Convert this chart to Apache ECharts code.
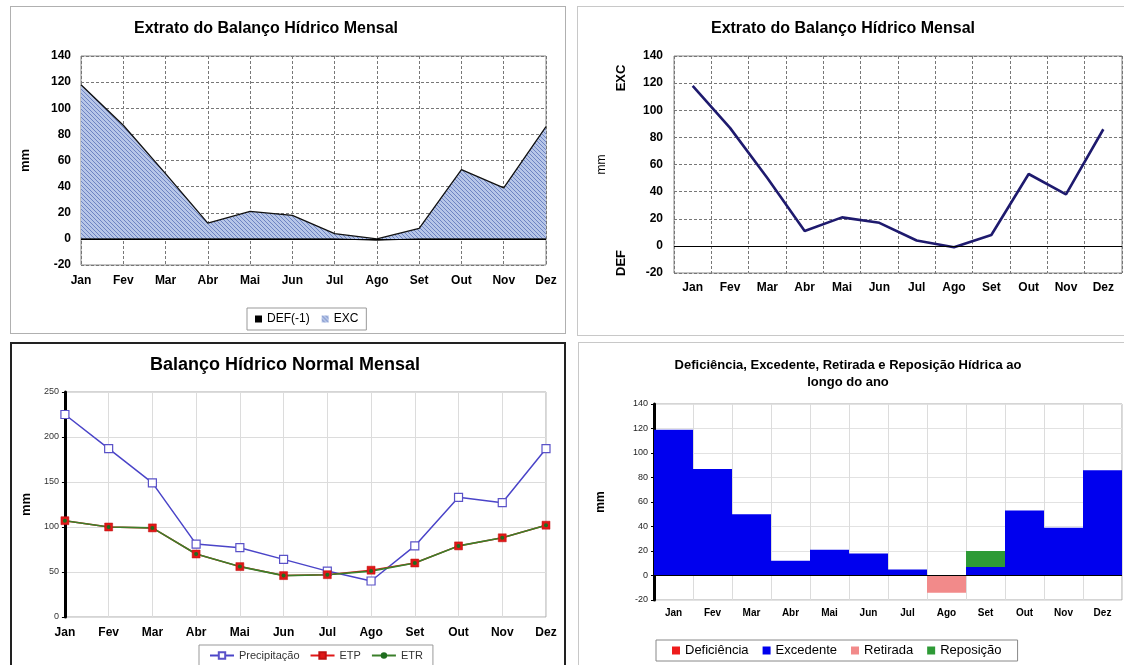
<!DOCTYPE html>
<html><head><meta charset="utf-8">
<script src="https://cdn.jsdelivr.net/npm/echarts@6/dist/echarts.min.js"></script>
<style>
html,body{margin:0;padding:0;width:1124px;height:665px;overflow:hidden;background:#fff;}
.p{position:absolute;box-sizing:border-box;background:#fff;}
</style></head><body>
<div id="p1" class="p" style="left:10px;top:6px;width:556px;height:328px;border:1px solid #b0b0b0;"></div>
<div id="p2" class="p" style="left:577px;top:6px;width:580px;height:330px;border:1px solid #c8c8c8;"></div>
<div id="p3" class="p" style="left:10px;top:342px;width:556px;height:340px;border:2px solid #222;"></div>
<div id="p4" class="p" style="left:578px;top:342px;width:580px;height:340px;border:1px solid #c8c8c8;"></div>
<script>
// ---------- data ----------
const months = ['Jan','Fev','Mar','Abr','Mai','Jun','Jul','Ago','Set','Out','Nov','Dez'];
// Panel 1: Extrato (area)
const excArea = [118, 87, 50, 12, 21, 18, 4, 0, 8, 53, 39, 86];
const defArea = [0, 0, 0, 0, 0, 0, 0, -1, 0, 0, 0, 0];
// Panel 2: Extrato (line)
const extratoLine = [118, 87, 50, 11, 21, 17, 4, -1, 8, 53, 38, 86];
// Panel 3: Balanço hídrico normal
const precipitacao = [225, 187, 149, 81, 77, 64, 51, 40, 79, 133, 127, 187];
const etp = [107, 100, 99, 70, 56, 46, 47, 52, 60, 79, 88, 102];
const etr = [107, 100, 99, 70, 56, 46, 47, 51, 60, 79, 88, 102];
// Panel 4: bars
const deficiencia = [0, 0, 0, 0, 0, 0, 0, 0, 0, 0, 0, 0];
const excedente = [119, 87, 50, 12, 21, 18, 5, 0, 7, 53, 39, 86];
const retirada = [0, 0, 0, 0, 0, 0, 0, -14, 0, 0, 0, 0];
const reposicao = [0, 0, 0, 0, 0, 0, 0, 0, 13, 0, 0, 0];
// tick settings
const ticks140 = {min: -20, max: 140, interval: 20};
const ticks250 = {min: 0, max: 250, interval: 50};

const FONT = 'Arial, "Liberation Sans", sans-serif';

function hatch(){
  const c = document.createElement('canvas');
  c.width = 4; c.height = 4;
  const g = c.getContext('2d');
  g.fillStyle = '#b7c6e8'; g.fillRect(0,0,4,4);
  g.strokeStyle = '#6e84c2'; g.lineWidth = 1;
  g.beginPath(); g.moveTo(-1,-1); g.lineTo(5,5); g.stroke();
  g.beginPath(); g.moveTo(3,-1); g.lineTo(5,1); g.stroke();
  g.beginPath(); g.moveTo(-1,3); g.lineTo(1,5); g.stroke();
  return c;
}
const hatchColor = {image: hatch(), repeat: 'repeat'};

const zeroLine = {silent: true, symbol: 'none', label: {show: false}, animation: false,
  lineStyle: {color: '#000', type: 'solid', width: 1}, data: [{yAxis: 0}]};

// ---------- Panel 1 ----------
echarts.init(document.getElementById('p1')).setOption({
  animation: false,
  title: {text: 'Extrato do Balanço Hídrico Mensal', left: 255, top: 14, textAlign: 'center', padding: 0,
    textStyle: {fontFamily: FONT, fontSize: 16, fontWeight: 'bold', color: '#000'}},
  legend: {left: 236, top: 301, padding: [5, 8], borderColor: '#999', borderWidth: 1, itemGap: 12,
    itemWidth: 7, itemHeight: 7, icon: 'rect',
    textStyle: {fontFamily: FONT, fontSize: 12, color: '#000'},
    data: ['DEF(-1)', 'EXC']},
  grid: {left: 64, top: 49, width: 471, height: 209, show: true, borderColor: '#888', borderWidth: 1},
  xAxis: {type: 'category', data: months, boundaryGap: false,
    axisLine: {show: false}, axisTick: {show: false},
    axisLabel: {margin: 10, fontFamily: FONT, fontSize: 12, fontWeight: 'bold', color: '#000'},
    splitLine: {show: true, lineStyle: {color: '#777', type: [3, 2]}}},
  yAxis: {type: 'value', ...ticks140, name: 'mm', nameLocation: 'middle', nameGap: 49, nameRotate: 90,
    nameTextStyle: {fontFamily: FONT, fontSize: 13, fontWeight: 'bold', color: '#000'},
    axisLine: {show: false}, axisTick: {show: false},
    axisLabel: {margin: 10, fontFamily: FONT, fontSize: 12, fontWeight: 'bold', color: '#000'},
    splitLine: {show: true, lineStyle: {color: '#777', type: [3, 2]}}},
  series: [
    {name: 'DEF(-1)', type: 'line', data: defArea, symbol: 'none', itemStyle: {color: '#000'},
     lineStyle: {color: '#000', width: 1}, areaStyle: {color: '#000', opacity: 1}},
    {name: 'EXC', type: 'line', data: excArea, symbol: 'none', itemStyle: {color: hatchColor},
     lineStyle: {color: '#111', width: 1.3}, areaStyle: {color: hatchColor, opacity: 1},
     markLine: zeroLine}
  ]
});

// ---------- Panel 2 ----------
echarts.init(document.getElementById('p2')).setOption({
  animation: false,
  title: {text: 'Extrato do Balanço Hídrico Mensal', left: 265, top: 14, textAlign: 'center', padding: 0,
    textStyle: {fontFamily: FONT, fontSize: 16, fontWeight: 'bold', color: '#000'}},
  grid: {left: 96, top: 49, width: 448, height: 217, show: true, borderColor: '#888', borderWidth: 1},
  xAxis: {type: 'category', data: months, boundaryGap: true,
    axisLine: {show: false}, axisTick: {show: false},
    axisLabel: {margin: 9, fontFamily: FONT, fontSize: 12, fontWeight: 'bold', color: '#000'},
    splitLine: {show: true, lineStyle: {color: '#777', type: [3, 2]}}},
  yAxis: {type: 'value', ...ticks140, name: 'mm', nameLocation: 'middle', nameGap: 66, nameRotate: 90,
    nameTextStyle: {fontFamily: FONT, fontSize: 12, color: '#000'},
    axisLine: {show: false}, axisTick: {show: false},
    axisLabel: {margin: 11, fontFamily: FONT, fontSize: 12, fontWeight: 'bold', color: '#000'},
    splitLine: {show: true, lineStyle: {color: '#777', type: [3, 2]}}},
  graphic: [
    {type: 'text', x: 43, y: 71, rotation: Math.PI / 2,
     style: {text: 'EXC', font: 'bold 13px ' + FONT, fill: '#000', textAlign: 'center', textVerticalAlign: 'middle', verticalAlign: 'middle'}},
    {type: 'text', x: 43, y: 256, rotation: Math.PI / 2,
     style: {text: 'DEF', font: 'bold 13px ' + FONT, fill: '#000', textAlign: 'center', textVerticalAlign: 'middle', verticalAlign: 'middle'}}
  ],
  series: [
    {name: 'Extrato', type: 'line', data: extratoLine, symbol: 'none',
     lineStyle: {color: '#1e1a6e', width: 2.6}, markLine: zeroLine}
  ]
});

// ---------- Panel 3 ----------
echarts.init(document.getElementById('p3')).setOption({
  animation: false,
  title: {text: 'Balanço Hídrico Normal Mensal', left: 273, top: 12, textAlign: 'center', padding: 0,
    textStyle: {fontFamily: FONT, fontSize: 18, fontWeight: 'bold', color: '#000'}},
  legend: {left: 187, top: 301, padding: [5, 10], borderColor: '#999', borderWidth: 1, itemGap: 10,
    itemWidth: 24, itemHeight: 8,
    textStyle: {fontFamily: FONT, fontSize: 11, color: '#333'},
    data: ['Precipitação', 'ETP', 'ETR']},
  grid: {left: 44, top: 48, width: 490, height: 225, show: true, borderColor: '#aaa', borderWidth: 1},
  xAxis: {type: 'category', data: months, boundaryGap: false,
    axisLine: {show: false}, axisTick: {show: false},
    axisLabel: {margin: 10, fontFamily: FONT, fontSize: 12, fontWeight: 'bold', color: '#000'},
    splitLine: {show: true, lineStyle: {color: '#dcdcdc', type: 'solid'}}},
  yAxis: {type: 'value', ...ticks250, name: 'mm', nameLocation: 'middle', nameGap: 30, nameRotate: 90,
    nameTextStyle: {fontFamily: FONT, fontSize: 13, fontWeight: 'bold', color: '#000'},
    axisLine: {show: true, lineStyle: {color: '#000', width: 3}},
    axisTick: {show: true, length: 3, lineStyle: {color: '#000'}},
    axisLabel: {margin: 6, fontFamily: FONT, fontSize: 9, color: '#333'},
    splitLine: {show: true, lineStyle: {color: '#dcdcdc', type: 'solid'}}},
  series: [
    {name: 'Precipitação', type: 'line', data: precipitacao, symbol: 'rect', symbolSize: 8,
     itemStyle: {color: '#fff', borderColor: '#5a52c8', borderWidth: 1.2},
     lineStyle: {color: '#4a44c8', width: 1.5}},
    {name: 'ETP', type: 'line', data: etp, symbol: 'rect', symbolSize: 8,
     itemStyle: {color: '#e01818', borderColor: '#c01010', borderWidth: 0.5},
     lineStyle: {color: '#e01818', width: 1.5}},
    {name: 'ETR', type: 'line', data: etr, symbol: 'circle', symbolSize: 4,
     itemStyle: {color: '#1f6d1f'},
     lineStyle: {color: '#3a7f2a', width: 1.6}}
  ]
});

// ---------- Panel 4 ----------
const barCommon = {type: 'bar', stack: 'hid', barCategoryGap: '0%', barGap: '0%'};
echarts.init(document.getElementById('p4')).setOption({
  animation: false,
  title: {text: 'Deficiência, Excedente, Retirada e Reposição Hídrica ao\nlongo do ano', left: 269, top: 14,
    textAlign: 'center', padding: 0,
    textStyle: {fontFamily: FONT, fontSize: 13, fontWeight: 'bold', color: '#000', lineHeight: 17}},
  legend: {left: 77, top: 297, padding: [4, 16], borderColor: '#888', borderWidth: 1, itemGap: 14,
    itemWidth: 8, itemHeight: 8, icon: 'rect',
    textStyle: {fontFamily: FONT, fontSize: 13, color: '#000'},
    data: ['Deficiência', 'Excedente', 'Retirada', 'Reposição']},
  grid: {left: 75, top: 61, width: 468, height: 196, show: true, borderColor: '#aaa', borderWidth: 1},
  xAxis: {type: 'category', data: months, boundaryGap: true,
    axisLine: {show: false}, axisTick: {show: false},
    axisLabel: {margin: 8, fontFamily: FONT, fontSize: 10, fontWeight: 'bold', color: '#000'},
    splitLine: {show: true, lineStyle: {color: '#dcdcdc', type: 'solid'}}},
  yAxis: {type: 'value', ...ticks140, name: 'mm', nameLocation: 'middle', nameGap: 47, nameRotate: 90,
    nameTextStyle: {fontFamily: FONT, fontSize: 12, fontWeight: 'bold', color: '#000'},
    axisLine: {show: true, lineStyle: {color: '#000', width: 3}},
    axisTick: {show: true, length: 3, lineStyle: {color: '#000'}},
    axisLabel: {margin: 6, fontFamily: FONT, fontSize: 9, color: '#222'},
    splitLine: {show: true, lineStyle: {color: '#e2e2e2', type: 'solid'}}},
  series: [
    {...barCommon, name: 'Deficiência', data: deficiencia, itemStyle: {color: '#ee1c1c'}},
    {...barCommon, name: 'Excedente', data: excedente, itemStyle: {color: '#0000ee'}, markLine: zeroLine},
    {...barCommon, name: 'Retirada', data: retirada, itemStyle: {color: '#f28a8a'}},
    {...barCommon, name: 'Reposição', data: reposicao, itemStyle: {color: '#2e9a36'}}
  ]
});
</script>
</body></html>
